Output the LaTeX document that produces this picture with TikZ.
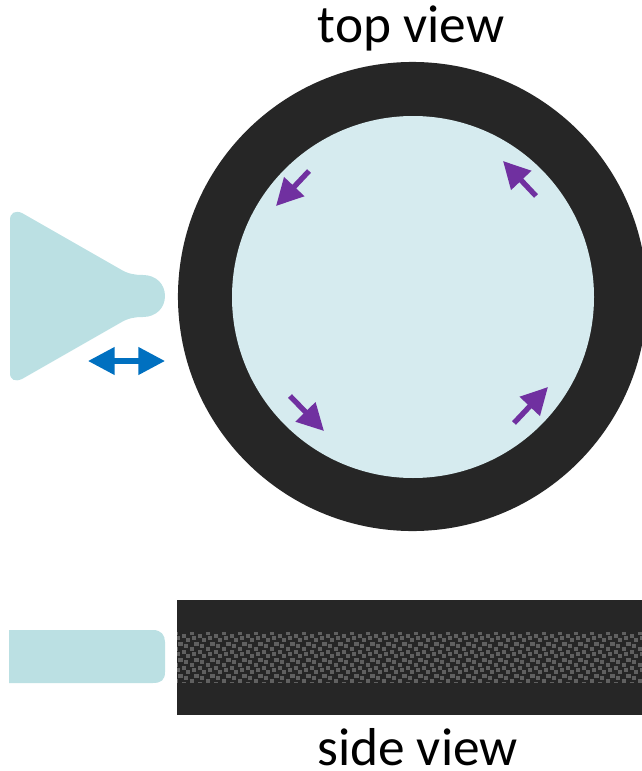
\documentclass[tikz,border=0pt]{standalone}
\usepackage{fontspec}
\setmainfont{Carlito}
\usetikzlibrary{arrows.meta}
\definecolor{darkbody}{HTML}{262626}
\definecolor{innerfill}{HTML}{D6EBEF}
\definecolor{nozzle}{HTML}{BBE0E3}
\definecolor{speck}{HTML}{606060}
\definecolor{wavepurple}{HTML}{7030A0}
\definecolor{moveblue}{HTML}{0070C0}
\tikzset{
  viewlabel/.style={font=\fontsize{40pt}{46pt}\selectfont,text=black,inner sep=0pt,anchor=base},
  wavearrow/.style={draw=wavepurple,line width=4pt,-{Triangle[length=20pt,width=20pt,fill=wavepurple]}},
  movearrow/.style={draw=moveblue,line width=4pt,{Triangle[length=20pt,width=20pt,fill=moveblue]}-{Triangle[length=20pt,width=20pt,fill=moveblue]}},
  specksq/.style={fill=speck,draw=none}
}
\begin{document}
\begin{tikzpicture}[x=0.75pt,y=-0.75pt]
\useasboundingbox (0,0) rectangle (642,771);
\begin{scope}
\clip (0,0) rectangle (642,771);
\fill[darkbody] (412.5,296.5) circle[radius=175.9pt];
\fill[innerfill] (413,297) circle[radius=135.75pt];
\fill[darkbody] (177,600) rectangle (642,715);
\begin{scope}
\clip (177,632) rectangle (642,682);
\foreach \i in {-1,...,29}{
  \foreach \j in {-1,...,3}{
    \begin{scope}[shift={({177+16*\i},{632+16*\j})}]
      \foreach \a/\b in {14.7/0.7,6.7/4,1/6,10.7/8,3.3/12,9/14}{
        \fill[specksq] (\a-2.2,\b-2.2) rectangle (\a+2.2,\b+2.2);
      }
    \end{scope}
  }
}
\end{scope}
\end{scope}
\fill[nozzle] (10,220) .. controls (10,213) and (15,210) .. (22,213)
  -- (120,269) .. controls (128,274) and (135,275) .. (143,275)
  .. controls (156,275) and (165,284) .. (165,296)
  .. controls (165,308) and (156,317) .. (143,317)
  .. controls (135,317) and (128,318) .. (120,323)
  -- (22,379) .. controls (15,382) and (10,380) .. (10,373) -- cycle;
\fill[nozzle] (9,630) -- (153,630) .. controls (161,630) and (165,635) .. (165,642)
  -- (165,672) .. controls (165,680) and (161,683) .. (153,683) -- (9,683) -- cycle;
\coordinate (a1s) at (309,171); \coordinate (a1e) at (276,206);
\coordinate (a2s) at (536,196); \coordinate (a2e) at (503,161);
\coordinate (a3s) at (290,396); \coordinate (a3e) at (324,431);
\coordinate (a4s) at (514,423); \coordinate (a4e) at (548,387);
\coordinate (b1) at (88,361); \coordinate (b2) at (165,361);
\draw[wavearrow] (a1s) -- (a1e);
\draw[wavearrow] (a2s) -- (a2e);
\draw[wavearrow] (a3s) -- (a3e);
\draw[wavearrow] (a4s) -- (a4e);
\draw[movearrow] (b1) -- (b2);
\node[viewlabel] (topview) at (411,42) {top view};
\node[viewlabel] (sideview) at (417.5,765) {side view};
\end{tikzpicture}
\end{document}
